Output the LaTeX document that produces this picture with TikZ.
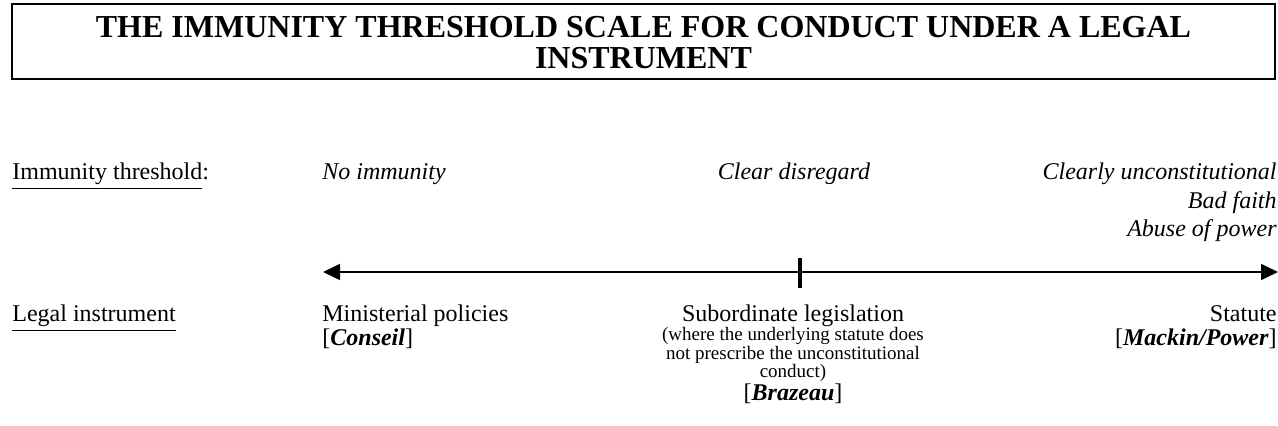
\documentclass[tikz,border=0pt]{standalone}
\usepackage{fontspec}
\setmainfont{Liberation Serif}
\usetikzlibrary{arrows.meta}

\begin{document}
\begin{tikzpicture}
  [
    x=0.5pt, y=-0.5pt,
    txt/.style={inner sep=0pt, font=\fontsize{12}{14}\selectfont},
    tight/.style={inner sep=0pt, font=\fontsize{12}{12}\selectfont},
    thr/.style={inner sep=0pt, font=\fontsize{12}{14.2}\selectfont\itshape},
    small/.style={inner sep=0pt, font=\fontsize{9.5}{8.7}\selectfont},
    heading/.style={inner sep=0pt, font=\fontsize{16}{15.2}\selectfont\bfseries},
    frame/.style={draw, line width=0.75pt},
    scaleline/.style={line width=0.8pt,
      {Triangle[length=8.5pt,width=8pt]}-{Triangle[length=8.5pt,width=8pt]}}
  ]
  \useasboundingbox (0,0) rectangle (1278,426);
  % title
  \draw [frame] (12,4) rectangle (1275,79);
  \node (title) [heading, anchor=base] at (643.5,38)
  {\begin{tabular}[t]{@{}c@{}}
    THE IMMUNITY THRESHOLD SCALE FOR CONDUCT UNDER A LEGAL\\
    INSTRUMENT
  \end{tabular}};
  % immunity threshold
  \node (thrlabel) [txt, anchor=base west] at (12,180) {\underline{Immunity threshold}:};
  \node (noimm) [thr, anchor=base west] at (322,180) {No immunity};
  \node (clear) [thr, anchor=base] at (794,180) {Clear disregard};
  \node (badfaith) [thr, anchor=base east] at (1277,180)
  {\begin{tabular}[t]{@{}r@{}}
    Clearly unconstitutional\\
    Bad faith\\
    Abuse of power
  \end{tabular}};
  % scale
  \coordinate (scaleL) at (323,272);
  \coordinate (scaleR) at (1278,272);
  \draw [scaleline] (scaleL) -- (scaleR);
  \draw [line width=2.25pt] (800,258) -- (800,288);
  % legal instrument
  \node (inslabel) [txt, anchor=base west] at (12,322) {\underline{Legal instrument}};
  \node (policies) [tight, anchor=base west] at (322,322)
  {\begin{tabular}[t]{@{}l@{}}
    Ministerial policies\\
    {[}\textbf{\textit{Conseil}}]
  \end{tabular}};
  \node (subleg) [txt, anchor=base] at (793,322) {Subordinate legislation};
  \node (subnote) [small, anchor=base] at (793,341)
  {\begin{tabular}[t]{@{}c@{}}
    (where the underlying statute does\\
    not prescribe the unconstitutional\\
    conduct)
  \end{tabular}};
  \node (brazeau) [txt, anchor=base] at (793,401) {[\textbf{\textit{Brazeau}}]};
  \node (statute) [tight, anchor=base east] at (1277,322)
  {\begin{tabular}[t]{@{}r@{}}
    Statute\\
    {[}\textbf{\textit{Mackin/Power}}]
  \end{tabular}};
\end{tikzpicture}
\end{document}
